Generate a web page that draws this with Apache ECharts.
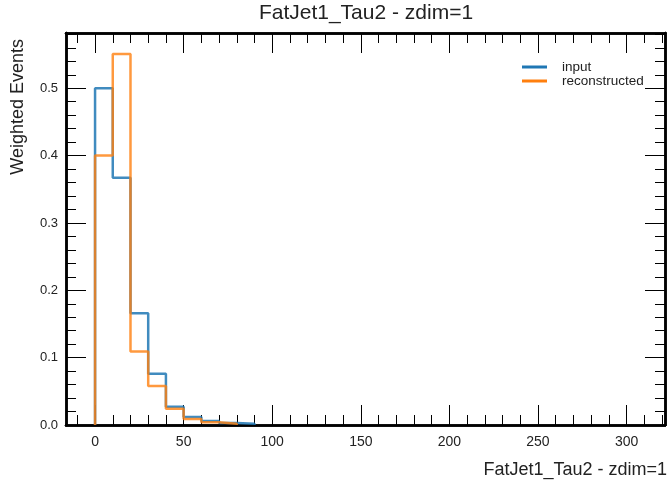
<!DOCTYPE html>
<html lang="en">
<head>
    <meta charset="UTF-8">
    <title>FatJet1_Tau2 - zdim=1</title>
    <script src="https://cdn.jsdelivr.net/npm/echarts@6/dist/echarts.min.js"></script>
</head>
<body style="margin:0;background:#fff">
    <div id="ec" style="width:667px;height:480px"></div>
</body>
<script>
    // histogram bins (width 10)
    var binEdges = [0, 10, 20, 30, 40, 50, 60, 70, 80, 90]
    var inputVals = [0.500, 0.367, 0.166, 0.076, 0.027, 0.012, 0.006, 0.003, 0.002]
    var reconVals = [0.400, 0.551, 0.109, 0.058, 0.024, 0.009, 0.004, 0.002]
    var xMajor = [0, 50, 100, 150, 200, 250, 300]
    var yMajor = [0, 0.1, 0.2, 0.3, 0.4, 0.5]

    var xMin = -16.4, xMax = 321.7
    var yMin = 0, yMax = 0.582

    var xMinor = []
    for (var i = -10; i <= 320; i += 10) xMinor.push(i)
    var yMinor = []
    for (var j = 0; j <= 29; j++) yMinor.push(+(j * 0.02).toFixed(2))

    var font = "'Liberation Sans', Arial, sans-serif"

    // step outline like matplotlib histtype='step'
    function stepData(vals) {
        var d = [[binEdges[0], 0]]
        for (var k = 0; k < vals.length; k++) d.push([binEdges[k], vals[k]])
        d.push([binEdges[vals.length], 0])
        return d
    }

    function xAx(pos, ticks, len, labels) {
        return {
            type: 'value', position: pos, min: xMin, max: xMax,
            axisLine: { show: true, onZero: false, lineStyle: { color: '#000', width: 2.5 } },
            axisTick: { show: true, inside: true, length: len, customValues: ticks, lineStyle: { color: '#000', width: 1 } },
            axisLabel: labels ? { customValues: xMajor, fontSize: 14, color: '#222', margin: 10, fontFamily: font }
                              : { show: false },
            splitLine: { show: false }
        }
    }
    function yAx(pos, ticks, len, labels) {
        return {
            type: 'value', position: pos, min: yMin, max: yMax,
            axisLine: { show: true, onZero: false, lineStyle: { color: '#000', width: 2.5 } },
            axisTick: { show: true, inside: true, length: len, customValues: ticks, lineStyle: { color: '#000', width: 1 } },
            axisLabel: labels ? { customValues: yMajor, fontSize: 13, color: '#222', margin: 8, fontFamily: font,
                                  formatter: function (v) { return v.toFixed(1) } }
                              : { show: false },
            splitLine: { show: false }
        }
    }

    var mychart = echarts.init(document.getElementById('ec'))
    var options = {
        animation: false,
        backgroundColor: '#fff',
        grid: { left: 66, right: 2, top: 33, bottom: 55 },
        xAxis: [
            xAx('bottom', xMajor, 20, true),
            xAx('bottom', xMinor, 10, false),
            xAx('top', xMajor, 20, false),
            xAx('top', xMinor, 10, false)
        ],
        yAxis: [
            yAx('left', yMajor, 20, true),
            yAx('left', yMinor, 10, false),
            yAx('right', yMajor, 20, false),
            yAx('right', yMinor, 10, false)
        ],
        legend: {
            orient: 'vertical', left: 517, top: 55,
            icon: 'rect', itemWidth: 25, itemHeight: 3, itemGap: 0,
            textStyle: { fontSize: 13.5, color: '#222', fontFamily: font, padding: [0, 0, 0, 10] },
            data: ['input', 'reconstructed']
        },
        graphic: [
            { type: 'text', x: 366, y: 13, style: { text: 'FatJet1_Tau2 - zdim=1', font: '21px ' + font, fill: '#222', textAlign: 'center', textVerticalAlign: 'middle' } },
            { type: 'text', x: 667, y: 470, style: { text: 'FatJet1_Tau2 - zdim=1', font: '18px ' + font, fill: '#222', textAlign: 'right', textVerticalAlign: 'middle' } },
            { type: 'text', x: 18, y: 39, rotation: Math.PI / 2, style: { text: 'Weighted Events', font: '18px ' + font, fill: '#222', textAlign: 'right', textVerticalAlign: 'middle' } }
        ],
        series: [
            {
                name: 'input', type: 'line', step: 'end', symbol: 'none',
                xAxisIndex: 0, yAxisIndex: 0,
                itemStyle: { color: '#1f77b4' },
                lineStyle: { color: '#1f77b4', width: 2.5, opacity: 0.85 },
                data: stepData(inputVals)
            },
            {
                name: 'reconstructed', type: 'line', step: 'end', symbol: 'none',
                xAxisIndex: 0, yAxisIndex: 0,
                itemStyle: { color: '#ff7f0e' },
                lineStyle: { color: '#ff7f0e', width: 2.5, opacity: 0.8 },
                data: stepData(reconVals)
            }
        ]
    }
    mychart.setOption(options)
</script>
</html>
